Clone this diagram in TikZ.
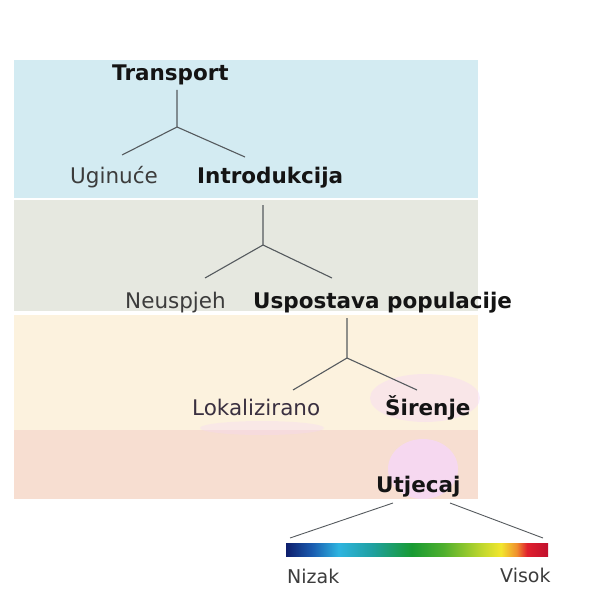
\documentclass[tikz,border=0pt]{standalone}
\usepackage{fontspec}
\setmainfont{DejaVu Sans}
\definecolor{bandA}{HTML}{D3EBF2}
\definecolor{bandB}{HTML}{E6E8E0}
\definecolor{bandC}{HTML}{FCF2DE}
\definecolor{bandD}{HTML}{F7DED1}
\definecolor{blob}{HTML}{F6D8F6}
\definecolor{txtgrey}{HTML}{3C3C3C}
\definecolor{txtpurple}{HTML}{3A3040}
\definecolor{txtblack}{HTML}{141414}
\definecolor{linegrey}{HTML}{555A5E}
\definecolor{g0}{HTML}{0E1E6C}
\definecolor{g1}{HTML}{1A5CB0}
\definecolor{g2}{HTML}{2EB4E0}
\definecolor{g3}{HTML}{1FA0A0}
\definecolor{g4}{HTML}{189A32}
\definecolor{g5}{HTML}{4EAF2E}
\definecolor{g6}{HTML}{C2D82E}
\definecolor{g7}{HTML}{F2E62E}
\definecolor{g8}{HTML}{F0902E}
\definecolor{g9}{HTML}{E0202E}
\definecolor{g10}{HTML}{C0102E}
\pgfdeclarehorizontalshading{impact}{100bp}{color(0bp)=(g0); color(25bp)=(g0); color(30bp)=(g1); color(35bp)=(g2); color(41.5bp)=(g3); color(49bp)=(g4); color(55bp)=(g5); color(62.5bp)=(g6); color(66bp)=(g7); color(69bp)=(g8); color(71bp)=(g9); color(75bp)=(g10); color(100bp)=(g10)}
\tikzset{
  lbl/.style={inner sep=0pt, anchor=base west, font=\fontsize{21.5}{24}\selectfont, text=txtgrey},
  boldlbl/.style={lbl, font=\fontsize{21.5}{24}\selectfont\bfseries, text=txtblack},
  smalllbl/.style={lbl, font=\fontsize{19}{22}\selectfont},
  branch/.style={draw=linegrey, line width=1.1pt}
}
\begin{document}
\begin{tikzpicture}[x=1pt,y=-1pt]
\useasboundingbox (0,0) rectangle (601,604);
% bands
\fill[bandA] (14,60) rectangle (478,198);
\fill[bandB] (14,200) rectangle (478,311);
\fill[bandC] (14,315) rectangle (478,430);
\fill[bandD] (14,430) rectangle (478,499);
% pink blobs
\fill[blob, opacity=0.45] (425,398) ellipse [x radius=55, y radius=24];
\fill[blob, opacity=0.35] (262,428) ellipse [x radius=62, y radius=7];
\fill[blob, opacity=0.85] (423,469) ellipse [x radius=35, y radius=30];
% labels
\node[boldlbl] (transport) at (112,81) {Transport};
\node[lbl] (uginuce) at (70,183) {Uginuće};
\node[boldlbl] (intro) at (197,183) {Introdukcija};
\node[lbl] (neusp) at (125,308) {Neuspjeh};
\node[boldlbl] (usp) at (253,308) {Uspostava populacije};
\node[lbl, text=txtpurple] (lokal) at (192,415) {Lokalizirano};
\node[boldlbl] (siren) at (385,415) {Širenje};
\node[boldlbl] (utj) at (376,492) {Utjecaj};
\node[smalllbl] (nizak) at (287,583) {Nizak};
\node[smalllbl] (visok) at (500,582) {Visok};
% colour bar
\shade[shading=impact] (286,543) rectangle (548,556);
\coordinate (barL) at (290,538);
\coordinate (barR) at (543,538);
% tree 1
\coordinate (t1top) at (177,90);
\coordinate (j1) at (177,127);
\coordinate (t1L) at (122,155);
\coordinate (t1R) at (245,157);
\draw[branch] (t1top) -- (j1) -- (t1L);
\draw[branch] (j1) -- (t1R);
% tree 2
\coordinate (t2top) at (263,205);
\coordinate (j2) at (263,245);
\coordinate (t2L) at (205,278);
\coordinate (t2R) at (332,278);
\draw[branch] (t2top) -- (j2) -- (t2L);
\draw[branch] (j2) -- (t2R);
% tree 3
\coordinate (t3top) at (347,318);
\coordinate (j3) at (347,358);
\coordinate (t3L) at (293,390);
\coordinate (t3R) at (417,390);
\draw[branch] (t3top) -- (j3) -- (t3L);
\draw[branch] (j3) -- (t3R);
% impact lines
\coordinate (uL) at (393,503);
\coordinate (uR) at (450,503);
\draw[branch, line width=0.9pt] (uL) -- (barL);
\draw[branch, line width=0.9pt] (uR) -- (barR);
\end{tikzpicture}
\end{document}
